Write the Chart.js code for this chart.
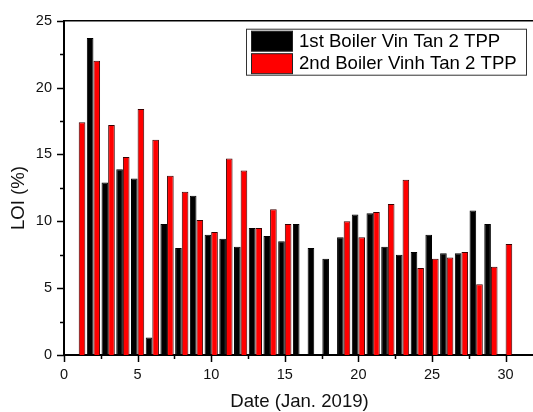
<!DOCTYPE html>
<html>
<head>
<meta charset="utf-8">
<script src="https://cdn.jsdelivr.net/npm/chart.js@4/dist/chart.umd.min.js"></script>
<style>
  html, body { margin: 0; padding: 0; background: #fff; overflow: hidden; }
  #chart { display: block; }
</style>
</head>
<body>
<canvas id="chart" width="533" height="412"></canvas>
<script>
// Data (LOI %, per day of Jan. 2019)
const days = [1, 2, 3, 4, 5, 6, 7, 8, 9, 10, 11, 12, 13, 14, 15,
              16, 17, 18, 19, 20, 21, 22, 23, 24, 25, 26, 27, 28, 29, 30];
const boiler1 = [null, 23.7, 12.9, 13.9, 13.2, 1.3, 9.8, 8.0, 11.9, 9.0, 8.7, 8.1, 9.5, 8.9, 8.5,
                 9.8, 8.0, 7.2, 8.8, 10.5, 10.6, 8.1, 7.5, 7.7, 9.0, 7.6, 7.6, 10.8, 9.8, null];
const boiler2 = [17.4, 22.0, 17.2, 14.8, 18.4, 16.1, 13.4, 12.2, 10.1, 9.2, 14.7, 13.8, 9.5, 10.9, 9.8,
                 null, null, null, 10.0, 8.8, 10.7, 11.3, 13.1, 6.5, 7.2, 7.3, 7.7, 5.3, 6.6, 8.3];
const seriesNames = ['1st Boiler Vin Tan 2 TPP', '2nd Boiler Vinh Tan 2 TPP'];
const xTitle = 'Date (Jan. 2019)';
const yTitle = 'LOI (%)';

const FONT = '"Liberation Sans", Arial, sans-serif';

function toPoints(values) {
  return days.map((d, i) => ({ x: d, y: values[i] }));
}

function majorLabel(value) {
  return value % 5 === 0 ? String(value) : '';
}

// Ticks (major/minor), top frame line, legend box and axis titles
const decorations = {
  id: 'decorations',
  afterDraw(chart) {
    const { ctx, chartArea: area, scales } = chart;
    ctx.save();
    ctx.strokeStyle = '#000';
    ctx.lineWidth = 1.5;

    // tick marks
    scales.x.ticks.forEach(t => {
      const px = Math.round(scales.x.getPixelForValue(t.value)) + 0.5;
      const len = t.value % 5 === 0 ? 7 : 4;
      ctx.beginPath();
      ctx.moveTo(px, area.bottom);
      ctx.lineTo(px, area.bottom + len);
      ctx.stroke();
    });
    scales.y.ticks.forEach(t => {
      const py = Math.round(scales.y.getPixelForValue(t.value)) + 0.5;
      const len = t.value % 5 === 0 ? 7 : 4;
      ctx.beginPath();
      ctx.moveTo(area.left, py);
      ctx.lineTo(area.left - len, py);
      ctx.stroke();
    });

    // top frame line
    ctx.beginPath();
    ctx.moveTo(area.left, area.top);
    ctx.lineTo(area.right, area.top);
    ctx.stroke();

    // legend
    const lx = area.right - 286.5, ly = area.top + 8.5;
    ctx.lineWidth = 1;
    ctx.strokeStyle = '#333';
    ctx.strokeRect(lx, ly, 280, 46);
    ctx.font = '18.6px ' + FONT;
    ctx.textBaseline = 'middle';
    ctx.textAlign = 'left';
    chart.data.datasets.forEach((ds, i) => {
      const sy = ly + 2 + i * 22.5;
      ctx.fillStyle = ds.backgroundColor;
      ctx.fillRect(lx + 5, sy, 41, 20);
      ctx.strokeStyle = '#222';
      ctx.strokeRect(lx + 5, sy, 41, 20);
      ctx.fillStyle = '#000';
      ctx.fillText(ds.label, lx + 52.5, sy + 10.5);
    });

    // axis titles
    ctx.fillStyle = '#111';
    ctx.textBaseline = 'alphabetic';
    ctx.textAlign = 'center';
    ctx.fillText(xTitle, (area.left + area.right) / 2 + 1, 406.5);
    ctx.translate(23.5, 198);
    ctx.rotate(-Math.PI / 2);
    ctx.fillText(yTitle, 0, 0);
    ctx.restore();
  }
};

const chart = new Chart(document.getElementById('chart'), {
  type: 'bar',
  data: {
    datasets: [{
      label: seriesNames[0],
      data: toPoints(boiler1),
      backgroundColor: '#000000',
      borderColor: '#000000',
      borderWidth: 1
    }, {
      label: seriesNames[1],
      data: toPoints(boiler2),
      backgroundColor: '#ff0000',
      borderColor: '#3a0000',
      borderWidth: 1
    }]
  },
  options: {
    responsive: false,
    animation: false,
    categoryPercentage: 0.9,
    barPercentage: 1.0,
    layout: { padding: { top: 16, right: 0, left: 0, bottom: 0 } },
    plugins: {
      legend: { display: false },
      tooltip: { enabled: false }
    },
    scales: {
      x: {
        type: 'linear',
        offset: false,
        min: 0,
        max: 31.86,
        grid: { display: false, drawTicks: false },
        border: { display: true, color: '#000', width: 2 },
        ticks: {
          stepSize: 2.5,
          includeBounds: false,
          autoSkip: false,
          maxRotation: 0,
          padding: 11,
          color: '#111',
          font: { family: FONT, size: 14.5 },
          callback: majorLabel
        },
        afterFit(scale) { scale.height = 57; }
      },
      y: {
        min: 0,
        max: 25,
        grid: { display: false, drawTicks: false },
        border: { display: true, color: '#000', width: 2 },
        ticks: {
          stepSize: 2.5,
          autoSkip: false,
          padding: 12,
          color: '#111',
          font: { family: FONT, size: 14.5 },
          callback: majorLabel
        },
        afterFit(scale) { scale.width = 64; }
      }
    }
  },
  plugins: [decorations]
});
</script>
</body>
</html>
